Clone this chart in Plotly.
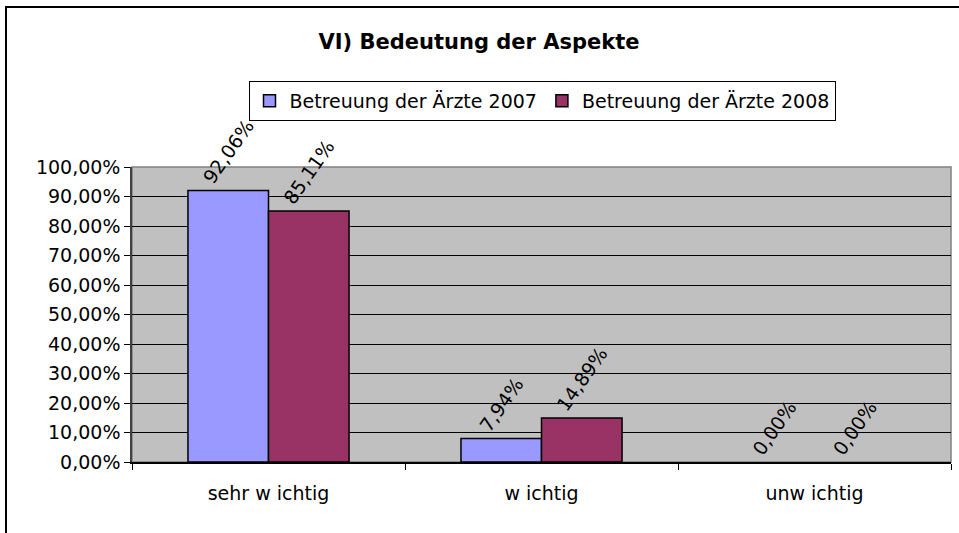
import plotly.graph_objects as go

categories = ["sehr w ichtig", "w ichtig", "unw ichtig"]
series_names = ["Betreuung der Ärzte 2007", "Betreuung der Ärzte 2008"]
values_2007 = [0.9206, 0.0794, 0.0]
values_2008 = [0.8511, 0.1489, 0.0]
colors = ["#9999FF", "#993366"]
y_ticks = [i / 10 for i in range(11)]

W, H = 959, 533
L, R, T, B = 132, 8, 167, 71
pw, ph = W - L - R, H - T - B

def px(x):
    return (x - L) / pw

def py(y):
    return (H - B - y) / ph

FONT = "DejaVu Sans"
FS = 19

fig = go.Figure()
for name, vals, col in zip(series_names, [values_2007, values_2008], colors):
    fig.add_trace(go.Bar(
        x=categories, y=vals, name=name,
        marker=dict(color=col, line=dict(color="black", width=[1.5 if v > 0 else 0 for v in vals])),
        texttemplate="%{y:.2%}", textposition="outside", textangle=-55,
        textfont=dict(family=FONT, size=FS, color="black"),
        constraintext="none", cliponaxis=False,
    ))

fig.update_layout(
    width=W, height=H,
    margin=dict(l=L, r=R, t=T, b=B, pad=0),
    paper_bgcolor="white", plot_bgcolor="#C0C0C0",
    separators=",.",
    barmode="group", bargap=0.41, bargroupgap=0,
    font=dict(family=FONT, size=FS, color="black"),
    title=dict(text="<b>VI) Bedeutung der Aspekte</b>", x=px(479), xref="paper", xanchor="center",
               y=1 - 42 / H, yanchor="middle", yref="container",
               font=dict(family=FONT, size=21, color="black")),
    legend=dict(orientation="h", x=px(542), xanchor="center", y=py(81), yanchor="top",
                bordercolor="black", borderwidth=1, bgcolor="white",
                font=dict(family=FONT, size=FS, color="black"),
                tracegroupgap=0),
    showlegend=True,
)
fig.update_xaxes(showline=True, linecolor="black", linewidth=1.5, ticks="outside", tickson="boundaries",
                 ticklen=6, tickcolor="black", showgrid=False, ticklabelstandoff=13,
                 tickfont=dict(family=FONT, size=FS))
fig.update_yaxes(range=[0, 1], tickvals=y_ticks, tickformat=".2%", showline=True, linecolor="#404040",
                 linewidth=1.5, ticks="outside", ticklen=6, tickcolor="black",
                 showgrid=True, gridcolor="black", gridwidth=1, zeroline=False,
                 tickfont=dict(family=FONT, size=FS))

# plot area border (gray) and chart outer border
fig.add_shape(type="rect", xref="paper", yref="paper", x0=0, y0=0, x1=1, y1=1,
              line=dict(color="#808080", width=1.5), layer="below")
fig.add_shape(type="rect", xref="paper", yref="paper", x0=px(6), y0=py(540), x1=px(965), y1=py(7),
              line=dict(color="black", width=2))

fig.write_html("out.html", config={"displayModeBar": False},
               post_script="document.body.style.margin='0';")
